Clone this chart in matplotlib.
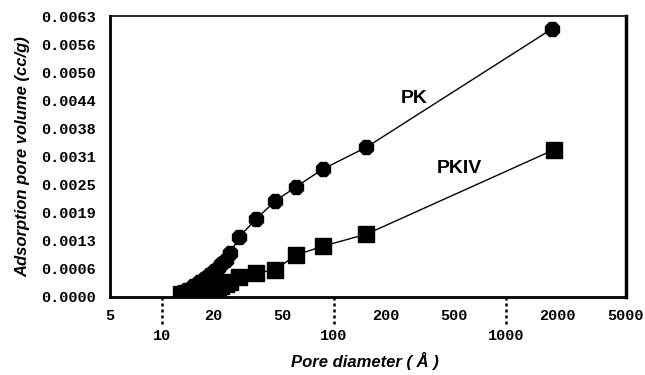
import numpy as np
import matplotlib
matplotlib.use('Agg')
import matplotlib.pyplot as plt

# pore diameters (angstrom)
pk_diam = [12.9, 13.9, 15.1, 16.4, 17.5, 18.7, 20.0, 21.1, 22.2, 23.5, 25.1,
           28.2, 35.4, 45.6, 60.3, 86.5, 155, 1850]
pk_vol = [0.00007, 0.00016, 0.00025, 0.00034, 0.00040, 0.00049, 0.00058,
          0.00065, 0.00074, 0.00083, 0.00099, 0.00135, 0.00175, 0.00215,
          0.00247, 0.00287, 0.00336, 0.00601]

pkiv_diam = [12.9, 13.9, 15.1, 16.4, 17.5, 18.7, 20.0, 21.1, 22.2, 23.5, 25.1,
             28.2, 35.4, 45.6, 60.3, 86.5, 155, 1900]
pkiv_vol = [0.00007, 0.00009, 0.00011, 0.00013, 0.00016, 0.00018, 0.00020,
            0.00022, 0.00025, 0.00029, 0.00034, 0.00045, 0.00054, 0.00061,
            0.00094, 0.00114, 0.00141, 0.00330]

ytick_labels = ['0.0000', '0.0006', '0.0013', '0.0019', '0.0025', '0.0031',
                '0.0038', '0.0044', '0.0050', '0.0056', '0.0063']
xtick_vals = [5, 10, 20, 50, 100, 200, 500, 1000, 2000, 5000]
xtick_labels = ['5', '\n10', '20', '50', '\n100', '200', '500', '\n1000', '2000', '5000']
decades = [10, 100, 1000]

fig = plt.figure(figsize=(6.45, 3.75), dpi=100)
ax = fig.add_axes([0.1705, 0.208, 0.8, 0.749])

ax.plot(pk_diam, pk_vol, color='black', lw=1.0, marker='8', ms=10.5,
        mfc='black', mec='black')
ax.plot(pkiv_diam, pkiv_vol, color='black', lw=1.0, marker='s', ms=11,
        mfc='black', mec='black')

ax.set_xscale('log')
ax.set_xlim(5, 5000)
ax.set_ylim(0, 0.0063)

ax.set_yticks(np.linspace(0, 0.0063, len(ytick_labels)))
ax.set_yticklabels(ytick_labels)
ax.set_xticks(xtick_vals)
ax.set_xticklabels(xtick_labels)
ax.xaxis.set_minor_locator(matplotlib.ticker.NullLocator())
ax.tick_params(axis='both', length=0)
ax.tick_params(axis='y', pad=10)
ax.tick_params(axis='x', pad=9)
for lab in ax.get_xticklabels() + ax.get_yticklabels():
    lab.set_fontfamily('Liberation Mono')
    lab.set_fontweight('bold')
    lab.set_fontsize(11)
    lab.set_linespacing(1.5)

# dotted decade ticks below the axis
for d in decades:
    ax.plot([d, d], [0, -0.096], transform=ax.get_xaxis_transform(),
            color='black', lw=1.8, ls=(0, (1.2, 1.2)), clip_on=False)

ax.spines['left'].set_linewidth(2)
ax.spines['bottom'].set_linewidth(2)
ax.spines['top'].set_linewidth(1.2)
ax.spines['right'].set_linewidth(2.5)

ax.text(294, 0.00446, 'PK', fontsize=14, fontweight='bold',
        fontfamily='Liberation Sans', ha='center', va='center')
ax.text(535, 0.00289, 'PKIV', fontsize=14, fontweight='bold',
        fontfamily='Liberation Sans', ha='center', va='center')

lab_font = dict(fontfamily=['Liberation Sans Narrow', 'Liberation Sans'],
                fontweight='bold', fontstyle='italic', fontsize=12)
fig.text(0.035, 0.582, 'Adsorption pore volume (cc/g)', rotation=90,
         ha='center', va='center', **lab_font)
fig.text(0.566, 0.038, 'Pore diameter ( Å )', ha='center', va='center', **lab_font)

fig.savefig('out.png', dpi=100)
